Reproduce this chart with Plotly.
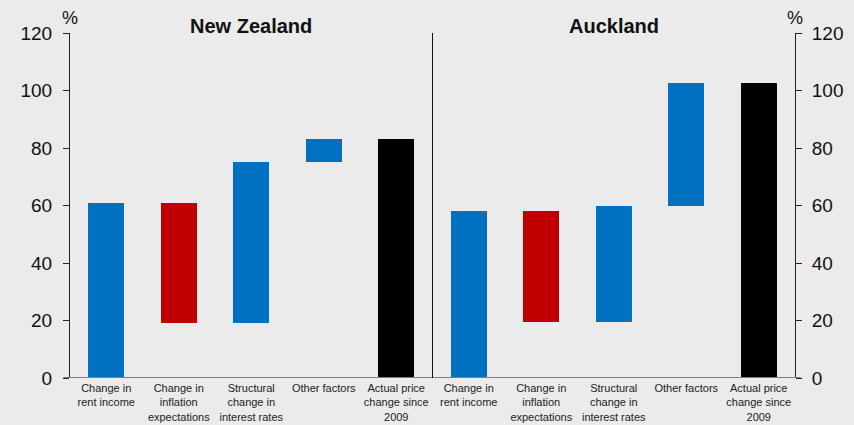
import plotly.graph_objects as go

categories = ["Change in<br>rent income", "Change in<br>inflation<br>expectations",
              "Structural<br>change in<br>interest rates", "Other factors",
              "Actual price<br>change since<br>2009"]
regions = ["New Zealand", "Auckland"]
nz_base = [0, 19, 19, 75, 0]
nz_top = [61, 61, 75, 83, 83]
akl_base = [0, 19.5, 19.5, 60, 0]
akl_top = [58, 58, 60, 102.5, 102.5]
bar_colors = ["#0070c0", "#c00000", "#0070c0", "#0070c0", "#000000"]
y_ticks = [0, 20, 40, 60, 80, 100, 120]

bases = nz_base + akl_base
tops = nz_top + akl_top
xs = list(range(len(bases)))
labels = categories + categories

fig = go.Figure()
fig.add_trace(go.Bar(
    x=xs, y=[t - b for t, b in zip(tops, bases)], base=bases,
    marker=dict(color=bar_colors * 2, line=dict(width=0)),
    width=0.5, showlegend=False, hoverinfo="skip"))
fig.add_trace(go.Scatter(x=[0], y=[0], yaxis="y2", mode="markers",
                         marker=dict(opacity=0), showlegend=False, hoverinfo="skip"))

bg = "#ebebeb"
font = "Liberation Sans, Arial, sans-serif"
title_font = dict(family="Liberation Sans Narrow, Arial Narrow, Liberation Sans, sans-serif",
                  size=20, color="#111")
fig.update_layout(
    width=854, height=425,
    margin=dict(l=70, r=59, t=33, b=47, autoexpand=False),
    paper_bgcolor=bg, plot_bgcolor=bg,
    bargap=0,
    xaxis=dict(range=[-0.5, 9.5], tickmode="array", tickvals=xs, ticktext=labels,
               showgrid=False, zeroline=False, showline=False, ticks="",
               automargin=False, ticklabelstandoff=2,
               tickfont=dict(family=font, size=11, color="#222"), fixedrange=True),
    yaxis=dict(range=[0, 120], tickvals=y_ticks, showgrid=False, zeroline=False,
               showline=True, linecolor="#222", linewidth=1, ticks="outside",
               ticklen=6, tickcolor="#222", ticklabelstandoff=7, automargin=False,
               tickfont=dict(family=font, size=19, color="#111")),
    yaxis2=dict(range=[0, 120], tickvals=y_ticks, overlaying="y", side="right",
                showgrid=False, zeroline=False, showline=True, linecolor="#222",
                linewidth=1, ticks="outside", ticklen=6, tickcolor="#222",
                ticklabelstandoff=6, automargin=False,
                tickfont=dict(family=font, size=19, color="#111")),
    shapes=[
        dict(type="line", xref="paper", yref="y", x0=-0.009, x1=1.008, y0=0, y1=0,
             line=dict(color="#7f7f7f", width=2)),
        dict(type="line", xref="x", yref="y", x0=4.5, x1=4.5, y0=0, y1=120,
             line=dict(color="#111", width=1)),
    ],
    annotations=[
        dict(text="<b>" + regions[0] + "</b>", x=2, y=1.0, xref="x", yref="paper",
             yanchor="bottom", yshift=-6, showarrow=False, font=title_font),
        dict(text="<b>" + regions[1] + "</b>", x=7, y=1.0, xref="x", yref="paper",
             yanchor="bottom", yshift=-6, showarrow=False, font=title_font),
        dict(text="%", x=0, y=1.0, xref="paper", yref="paper", yanchor="bottom",
             xanchor="center", yshift=3, showarrow=False,
             font=dict(family=font, size=18, color="#111")),
        dict(text="%", x=1, y=1.0, xref="paper", yref="paper", yanchor="bottom",
             xanchor="center", yshift=3, showarrow=False,
             font=dict(family=font, size=18, color="#111")),
    ],
)
fig.write_html("out.html", config={"displayModeBar": False},
               post_script="document.body.style.margin='0';document.body.style.background='#ebebeb';document.body.style.overflow='hidden';")
